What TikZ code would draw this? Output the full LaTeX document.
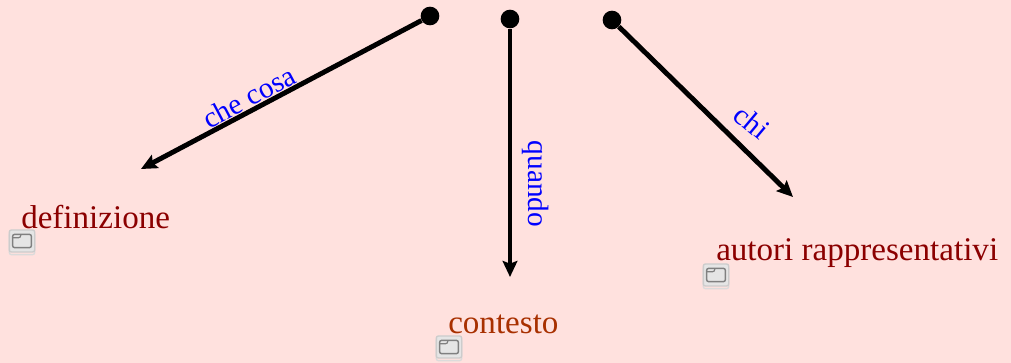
\documentclass[tikz,border=0pt]{standalone}
\usepackage{fontspec}
\setmainfont{Liberation Serif}
\usetikzlibrary{arrows.meta,calc}
\definecolor{pagepink}{HTML}{FFE1DE}
\definecolor{darkred}{HTML}{8B0000}
\definecolor{rustred}{HTML}{A83000}

\begin{document}
\begin{tikzpicture}[
    x=0.75pt, y=-0.75pt,
    dot/.style={circle, fill=black, inner sep=0pt, minimum size=14pt},
    arrow/.style={-{Stealth[length=12pt, width=11pt, inset=2pt]}, line width=3.7pt},
    concept/.style={anchor=base west, inner sep=0pt, font=\fontsize{24.8pt}{27pt}\selectfont},
    linklabel/.style={text=blue, inner sep=0pt, font=\fontsize{22pt}{24pt}\selectfont},
    iconbox/.style={rectangle, rounded corners=1.5pt, draw=black!20, line width=1pt, fill=black!10, minimum width=19pt, minimum height=16.5pt, inner sep=0pt,
        preaction={draw=black!14, fill=none, transform canvas={yshift=-2pt}},
        path picture={
            \draw[black!50, line width=1.1pt, fill=white!90!black]
                ($(path picture bounding box.center)+(-7pt,-5pt)$) rectangle ($(path picture bounding box.center)+(7pt,5pt)$);
            \draw[black!50, line width=0.9pt]
                ($(path picture bounding box.center)+(-7pt,2.5pt)$) -- ($(path picture bounding box.center)+(-1pt,2.5pt)$) -- ($(path picture bounding box.center)+(-1pt,5pt)$);
        }}
]
\useasboundingbox[fill=pagepink] (0,0) rectangle (1011,363);

% Start dots
\node[dot] (dotwhat) at (430,16) {};
\node[dot] (dotwhen) at (510,19) {};
\node[dot] (dotwho) at (612,20) {};

% Arrow ends
\coordinate (endwhat) at (141,169);
\coordinate (endwhen) at (510,277);
\coordinate (endwho) at (793,197);

% Concepts
\node[concept, text=darkred] (def) at (21,228.5) {definizione};
\node[concept, text=rustred] (ctx) at (448,333.5) {contesto};
\node[concept, text=darkred] (aut) at (716,260.5) {autori rappresentativi};

% Icons
\node[iconbox] (deficon) at (22,241) {};
\node[iconbox] (ctxicon) at (449,347) {};
\node[iconbox] (auticon) at (716,275) {};

% Arrows
\draw[arrow] (dotwhat) -- (endwhat);
\draw[arrow] (dotwhen) -- (endwhen);
\draw[arrow] (dotwho) -- (endwho);

% Link labels
\node[linklabel, rotate=28] (lblwhat) at (249,97) {che cosa};
\node[linklabel, rotate=-90] (lblwhen) at (536,184) {quando};
\node[linklabel, rotate=-40] (lblwho) at (752,122) {chi};

\end{tikzpicture}
\end{document}
